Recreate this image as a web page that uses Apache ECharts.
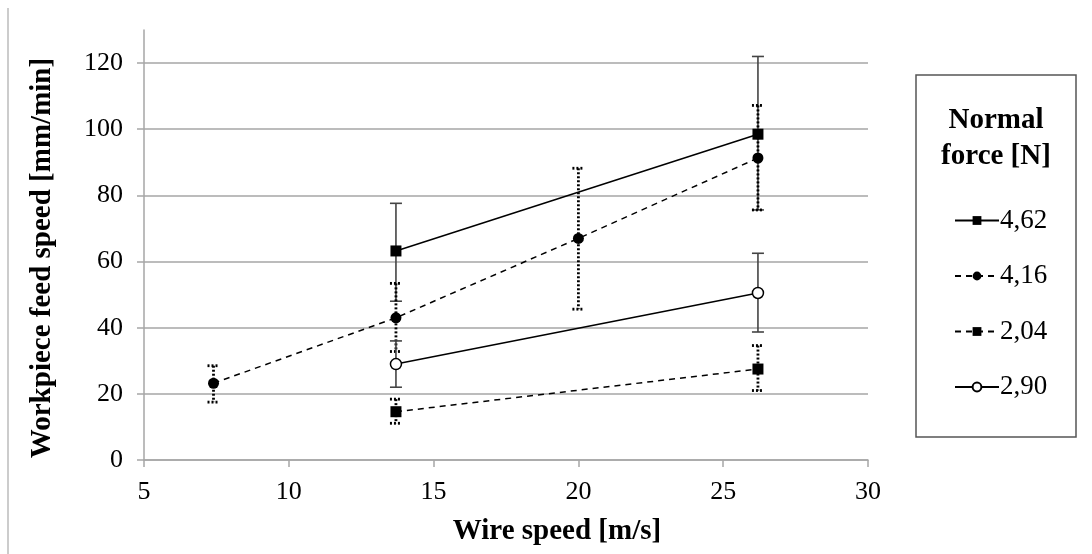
<!DOCTYPE html>
<html>
<head>
<meta charset="utf-8">
<script src="https://cdn.jsdelivr.net/npm/echarts@6/dist/echarts.min.js"></script>
<style>html,body{margin:0;padding:0;background:#fff}#c{width:1092px;height:554px}</style>
</head>
<body>
<div id="c"></div>
<script>
// ---- data ----
const seriesNames = ['4,62', '4,16', '2,04', '2,90'];
const x462 = [13.7, 26.2];
const y462 = [63.2, 98.5];
const hi462 = [77.6, 122];
const lo462 = [48, 75.6];

const x416 = [7.4, 13.7, 20, 26.2];
const y416 = [23.2, 43, 67, 91.3];
const hi416 = [28.5, 53.4, 88.2, 107.2];
const lo416 = [17.5, 32.8, 45.6, 75.6];

const x204 = [13.7, 26.2];
const y204 = [14.6, 27.5];
const hi204 = [18.4, 34.6];
const lo204 = [11.1, 21];

const x290 = [13.7, 26.2];
const y290 = [29, 50.5];
const hi290 = [36, 62.5];
const lo290 = [22, 38.7];

const yTicks = [0, 20, 40, 60, 80, 100, 120];
const xTitle = 'Wire speed [m/s]';
const yTitle = 'Workpiece feed speed [mm/min]';
const legendTitle = 'Normal\nforce [N]';

// ---- build ----
const FONT = 'Liberation Serif, Times New Roman, serif';
function pts(xs, ys) { return xs.map((x, i) => [x, ys[i]]); }
function errPts(xs, lo, hi) { return xs.map((x, i) => [x, lo[i], hi[i]]); }

function errSeries(name, data, dashed) {
  return {
    type: 'custom',
    name: name,
    z: 1,
    silent: true,
    data: data,
    encode: { x: 0, y: [1, 2] },
    renderItem: function (params, api) {
      const x = api.value(0), lo = api.value(1), hi = api.value(2);
      const pH = api.coord([x, hi]);
      const pL = api.coord([x, lo]);
      const hw = 6;
      const st = dashed
        ? { stroke: '#000', lineWidth: 2.8, lineDash: [2, 2] }
        : { stroke: '#444', lineWidth: 1.6 };
      return {
        type: 'group',
        children: [
          { type: 'line', shape: { x1: pH[0], y1: pH[1], x2: pL[0], y2: pL[1] }, style: st },
          { type: 'line', shape: { x1: pH[0] - hw, y1: pH[1], x2: pH[0] + hw, y2: pH[1] }, style: st },
          { type: 'line', shape: { x1: pL[0] - hw, y1: pL[1], x2: pL[0] + hw, y2: pL[1] }, style: st }
        ]
      };
    }
  };
}

function lineSeries(name, data, dashed, symbol, open) {
  return {
    type: 'line',
    name: name,
    z: 3,
    data: data,
    symbol: symbol,
    symbolSize: 11,
    showAllSymbol: true,
    lineStyle: { color: '#000', width: 1.5, type: dashed ? [6, 5] : 'solid' },
    itemStyle: open
      ? { color: '#fff', borderColor: '#000', borderWidth: 1.5 }
      : { color: '#000', borderColor: '#000', borderWidth: 0 },
    emphasis: { disabled: true },
    animation: false
  };
}

const option = {
  animation: false,
  backgroundColor: '#fff',
  grid: { left: 144, right: 224, top: 30, bottom: 94, containLabel: false },
  xAxis: {
    type: 'value', min: 5, max: 30, interval: 5,
    axisLine: { show: true, lineStyle: { color: '#a6a6a6', width: 1.5 } },
    axisTick: { show: true, length: 7, inside: false, lineStyle: { color: '#a6a6a6', width: 1.5 } },
    splitLine: { show: false },
    axisLabel: { color: '#000', fontSize: 26, fontFamily: FONT, margin: 19 }
  },
  yAxis: {
    type: 'value', min: 0, max: 130, interval: 20,
    axisLine: { show: true, lineStyle: { color: '#a6a6a6', width: 1.5 } },
    axisTick: { show: true, length: 7, customValues: yTicks, lineStyle: { color: '#a6a6a6', width: 1.5 } },
    splitLine: { show: true, lineStyle: { color: '#a6a6a6', width: 1.5 } },
    axisLabel: { color: '#000', fontSize: 26, fontFamily: FONT, margin: 21, customValues: yTicks }
  },
  legend: {
    orient: 'vertical',
    left: 949, top: 202,
    data: seriesNames,
    itemWidth: 44, itemHeight: 11, itemGap: 28.5,
    selectedMode: false,
    textStyle: { color: '#000', fontSize: 27, fontFamily: FONT, padding: [0, 0, 0, -4] }
  },
  graphic: [
    { type: 'line', shape: { x1: 8, y1: 8, x2: 8, y2: 554 }, style: { stroke: '#aaa', lineWidth: 1.2 } },
    { type: 'rect', shape: { x: 916, y: 75, width: 160, height: 362 }, style: { fill: 'none', stroke: '#555', lineWidth: 1.5 } },
    { type: 'text', x: 996, y: 139, style: { text: legendTitle, align: 'center', verticalAlign: 'middle', font: 'bold 29px ' + FONT, fill: '#000', lineHeight: 36 } },
    { type: 'text', x: 557, y: 532, style: { text: xTitle, align: 'center', verticalAlign: 'middle', font: 'bold 29px ' + FONT, fill: '#000' } },
    { type: 'text', x: 43, y: 258, rotation: Math.PI / 2, style: { text: yTitle, align: 'center', verticalAlign: 'middle', font: 'bold 29px ' + FONT, fill: '#000' } }
  ],
  series: [
    errSeries('err-4,62', errPts(x462, lo462, hi462), false),
    errSeries('err-4,16', errPts(x416, lo416, hi416), true),
    errSeries('err-2,04', errPts(x204, lo204, hi204), true),
    errSeries('err-2,90', errPts(x290, lo290, hi290), false),
    lineSeries('4,62', pts(x462, y462), false, 'rect', false),
    lineSeries('4,16', pts(x416, y416), true, 'circle', false),
    lineSeries('2,04', pts(x204, y204), true, 'rect', false),
    lineSeries('2,90', pts(x290, y290), false, 'circle', true)
  ]
};

const chart = echarts.init(document.getElementById('c'), null, { renderer: 'canvas' });
chart.setOption(option);
</script>
</body>
</html>
